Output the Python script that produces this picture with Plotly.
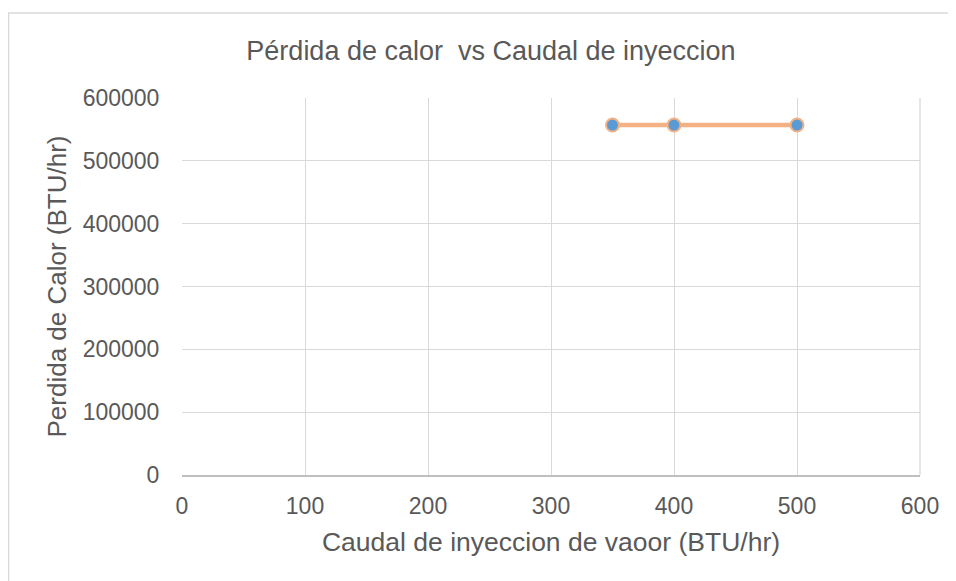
import plotly.graph_objects as go

caudal = [350, 400, 500]
perdida = [557000, 557000, 557000]
x_ticks = [0, 100, 200, 300, 400, 500, 600]
y_ticks = [0, 100000, 200000, 300000, 400000, 500000, 600000]

fig = go.Figure()
fig.add_trace(go.Scatter(
    x=caudal, y=perdida, mode="lines+markers",
    line=dict(color="#F4B183", width=4.5),
    marker=dict(size=13, color="#5B9BD5", line=dict(color="#F4B183", width=2)),
))

font = "Liberation Sans, Arial, sans-serif"
# page body has an 8px margin, so the figure is 8px smaller and shifted
fig.update_layout(
    width=948, height=573,
    margin=dict(l=174, r=36, t=90, b=106),
    paper_bgcolor="white", plot_bgcolor="white",
    showlegend=False,
    font=dict(family=font, size=23, color="#595959"),
    title=dict(text="Pérdida de calor  vs Caudal de inyeccion", x=0.5095, xanchor="center",
               y=0.925, yanchor="middle", font=dict(size=27, color="#595959")),
    shapes=[dict(type="rect", xref="paper", yref="paper", x0=-0.2351, y0=-1, x1=2, y1=1.2255,
                 line=dict(color="#D9D9D9", width=1.5), layer="below")],
)
fig.update_xaxes(
    range=[0, 600], tickvals=x_ticks, showgrid=True, gridcolor="#D9D9D9", gridwidth=1.3,
    zeroline=False, showline=True, linecolor="#BFBFBF", linewidth=1.5,
    ticks="outside", ticklen=10, tickcolor="rgba(0,0,0,0)",
    title=dict(text="Caudal de inyeccion de vaoor (BTU/hr)", standoff=14, font=dict(size=26.5)),
)
fig.update_yaxes(
    range=[0, 600000], tickvals=y_ticks, showgrid=True, gridcolor="#D9D9D9", gridwidth=1.3,
    zeroline=False, showline=False, tickformat="d",
    ticks="outside", ticklen=17, tickcolor="rgba(0,0,0,0)",
    title=dict(text="Perdida de Calor (BTU/hr)", standoff=8, font=dict(size=26)),
)
fig.add_shape(type="line", xref="paper", yref="paper", x0=1, x1=1, y0=0, y1=1,
              line=dict(color="#D9D9D9", width=1.3))
fig.write_html("out.html")
